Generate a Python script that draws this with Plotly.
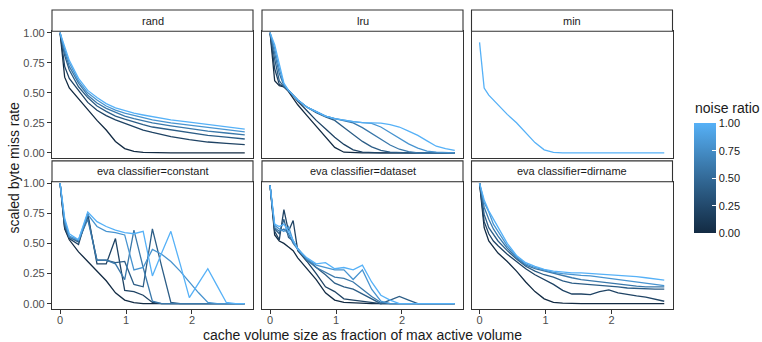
import plotly.graph_objects as go

# ---------------- data ----------------
noise_ratios = [0.0, 0.2, 0.4, 0.6, 0.8, 1.0]
panel_titles = ["rand", "lru", "min", "eva classifier=constant",
                "eva classifier=dataset", "eva classifier=dirname"]

rand_x = [0, 0.07, 0.14, 0.28, 0.42, 0.56, 0.7, 0.84, 0.98, 1.12, 1.26, 1.4, 1.68, 1.96, 2.24, 2.52, 2.8]
rand_y = [
    [1, .63, .54, .45, .36, .27, .19, .095, .035, .012, .003, 0, 0, 0, 0, 0, 0],
    [1, .72, .62, .52, .42, .355, .31, .275, .245, .215, .19, .17, .135, .11, .09, .078, .068],
    [1, .81, .69, .55, .46, .39, .345, .305, .28, .255, .235, .215, .19, .165, .145, .13, .115],
    [1, .84, .72, .58, .48, .415, .37, .335, .305, .285, .265, .25, .225, .2, .18, .165, .15],
    [1, .86, .75, .60, .50, .44, .39, .355, .33, .31, .29, .275, .25, .23, .21, .19, .175],
    [1, .88, .77, .62, .52, .46, .41, .375, .35, .33, .315, .30, .275, .255, .235, .215, .198],
]

lru_x = [0, 0.07, 0.14, 0.21, 0.28, 0.42, 0.56, 0.7, 0.84, 0.98, 1.12, 1.26, 1.4, 1.54, 1.68, 1.82, 1.96, 2.1, 2.24, 2.38, 2.52, 2.66, 2.8]
lru_y = [
    [1, .60, .56, .55, .51, .40, .31, .22, .13, .045, .005, 0, 0, 0, 0, 0, 0, 0, 0, 0, 0, 0, 0],
    [1, .70, .57, .55, .52, .43, .35, .27, .20, .13, .07, .025, .005, 0, 0, 0, 0, 0, 0, 0, 0, 0, 0],
    [1, .78, .60, .55, .52, .44, .38, .335, .30, .27, .21, .15, .095, .05, .02, .005, 0, 0, 0, 0, 0, 0, 0],
    [1, .84, .66, .56, .52, .44, .38, .34, .305, .285, .27, .25, .21, .16, .11, .065, .03, .01, 0, 0, 0, 0, 0],
    [1, .87, .70, .57, .52, .44, .38, .34, .305, .285, .27, .26, .252, .245, .215, .17, .12, .075, .04, .015, .005, 0, 0],
    [1, .90, .74, .58, .52, .44, .38, .34, .305, .285, .27, .26, .252, .25, .247, .235, .215, .18, .145, .10, .055, .035, .02],
]

min_x = [0, 0.07, 0.14, 0.28, 0.42, 0.56, 0.7, 0.84, 0.98, 1.12, 1.26, 1.68, 2.1, 2.52, 2.8]
min_y = [[0.92, 0.54, 0.48, 0.40, 0.32, 0.25, 0.165, 0.085, 0.025, 0.003, 0, 0, 0, 0, 0]]
min_noise = [1.0]

constant_x = [0, 0.07, 0.14, 0.28, 0.42, 0.56, 0.7, 0.84, 0.98, 1.12, 1.26, 1.4, 1.54, 1.68, 1.82, 1.96, 2.1, 2.24, 2.38, 2.52, 2.66, 2.8]
constant_y = [
    [1, .62, .53, .43, .35, .27, .19, .09, .03, .008, 0, 0, 0, 0, 0, 0, 0, 0, 0, 0, 0, 0],
    [1, .63, .54, .49, .75, .33, .33, .54, .11, .10, .07, .01, 0, 0, 0, 0, 0, 0, 0, 0, 0, 0],
    [1, .65, .55, .51, .72, .36, .36, .34, .35, .16, .14, .62, .31, .01, 0, 0, 0, 0, 0, 0, 0, 0],
    [1, .67, .55, .52, .70, .36, .36, .33, .20, .61, .30, .02, 0, 0, 0, 0, 0, 0, 0, 0, 0, 0],
    [1, .69, .56, .53, .74, .64, .60, .59, .57, .28, .30, .45, .41, .35, .27, .18, .09, .01, 0, 0, 0, 0],
    [1, .71, .58, .53, .76, .68, .64, .61, .59, .58, .60, .23, .42, .60, .33, .05, .17, .29, .15, .01, 0, 0],
]

dataset_x = [0, .07, .14, .21, .28, .35, .42, .56, .7, .84, .98, 1.12, 1.26, 1.4, 1.54, 1.68, 1.82, 1.96, 2.1, 2.24, 2.38, 2.52, 2.66, 2.8]
dataset_y = [
    [.98, .57, .52, .50, .47, .44, .38, .29, .20, .09, .03, .01, .005, 0, 0, 0, 0, 0, 0, 0, 0, 0, 0, 0],
    [.98, .60, .53, .78, .60, .69, .44, .35, .25, .14, .10, .04, .03, .02, .01, 0, 0, 0, 0, 0, 0, 0, 0, 0],
    [.98, .62, .58, .70, .55, .52, .45, .37, .30, .24, .17, .14, .12, .08, .04, 0, .03, .06, .03, 0, 0, 0, 0, 0],
    [.98, .63, .60, .62, .58, .50, .45, .36, .30, .26, .22, .21, .18, .12, .06, .01, 0, 0, 0, 0, 0, 0, 0, 0],
    [.98, .65, .62, .60, .64, .52, .46, .37, .32, .30, .28, .28, .20, .28, .12, .02, 0, 0, 0, 0, 0, 0, 0, 0],
    [.98, .66, .64, .66, .60, .52, .45, .38, .33, .34, .29, .30, .28, .32, .18, .07, .03, 0, 0, 0, 0, 0, 0, 0],
]

dirname_x = [0, .07, .14, .21, .28, .42, .56, .7, .84, .98, 1.12, 1.26, 1.4, 1.54, 1.68, 1.82, 1.96, 2.1, 2.24, 2.38, 2.52, 2.66, 2.8]
dirname_y = [
    [1, .63, .52, .47, .42, .35, .27, .18, .10, .04, .01, .005, 0, 0, 0, 0, 0, 0, 0, 0, 0, 0, 0],
    [1, .68, .58, .52, .48, .41, .35, .29, .24, .20, .16, .11, .08, .08, .075, .10, .115, .09, .075, .065, .055, .04, .02],
    [1, .74, .63, .57, .52, .44, .37, .31, .27, .24, .22, .19, .17, .165, .16, .155, .15, .14, .13, .125, .12, .12, .12],
    [1, .80, .70, .62, .56, .46, .38, .32, .29, .27, .25, .23, .215, .20, .19, .18, .17, .16, .15, .145, .14, .14, .14],
    [1, .84, .76, .66, .60, .48, .39, .33, .30, .28, .26, .25, .24, .235, .23, .22, .21, .20, .19, .175, .165, .155, .15],
    [1, .86, .77, .70, .64, .50, .40, .34, .31, .285, .27, .26, .255, .255, .25, .25, .245, .24, .235, .225, .215, .205, .195],
]

y_ticks = [0, 0.25, 0.5, 0.75, 1.0]
y_ticklabels = ["0.00", "0.25", "0.50", "0.75", "1.00"]
x_ticks = [0, 1, 2]
x_ticklabels = ["0", "1", "2"]
cb_ticks = [0, 0.25, 0.5, 0.75, 1.0]
cb_ticklabels = ["0.00", "0.25", "0.50", "0.75", "1.00"]

# ---------------- colour (ggplot default gradient, Lab interpolation) ----------------
LOW, HIGH = "#132B43", "#56B1F7"


def _hex2rgb(h):
    h = h.lstrip("#")
    return [int(h[i:i + 2], 16) / 255 for i in (0, 2, 4)]


def _to_lab(h):
    rgb = _hex2rgb(h)
    lin = [c / 12.92 if c <= 0.04045 else ((c + 0.055) / 1.055) ** 2.4 for c in rgb]
    X = 0.4124 * lin[0] + 0.3576 * lin[1] + 0.1805 * lin[2]
    Y = 0.2126 * lin[0] + 0.7152 * lin[1] + 0.0722 * lin[2]
    Z = 0.0193 * lin[0] + 0.1192 * lin[1] + 0.9505 * lin[2]
    xn, yn, zn = X / 0.95047, Y / 1.0, Z / 1.08883

    def f(t):
        return t ** (1 / 3) if t > 0.008856 else 7.787 * t + 16 / 116
    return (116 * f(yn) - 16, 500 * (f(xn) - f(yn)), 200 * (f(yn) - f(zn)))


def _from_lab(L, a, b):
    fy_ = (L + 16) / 116
    fx_ = fy_ + a / 500
    fz_ = fy_ - b / 200

    def finv(t):
        return t ** 3 if t ** 3 > 0.008856 else (t - 16 / 116) / 7.787
    X, Y, Z = finv(fx_) * 0.95047, finv(fy_), finv(fz_) * 1.08883
    r = 3.2406 * X - 1.5372 * Y - 0.4986 * Z
    g = -0.9689 * X + 1.8758 * Y + 0.0415 * Z
    bb = 0.0557 * X - 0.2040 * Y + 1.0570 * Z
    out = []
    for c in (r, g, bb):
        c = 12.92 * c if c <= 0.0031308 else 1.055 * c ** (1 / 2.4) - 0.055
        out.append(max(0, min(255, round(c * 255))))
    return "rgb(%d,%d,%d)" % tuple(out)


_lab_lo, _lab_hi = _to_lab(LOW), _to_lab(HIGH)


def gcol(t):
    return _from_lab(*[lo + (hi - lo) * t for lo, hi in zip(_lab_lo, _lab_hi)])


colorscale = [[i / 10, gcol(i / 10)] for i in range(11)]

# ---------------- layout geometry (px) ----------------
W, H = 762, 342
col_px = [(52, 253), (262, 463), (471.5, 672.5)]
row_px = [(26.7, 155.5), (179.3, 308.6)]
strip_px = [(5, 26.7), (158.2, 179.3)]


def fx(px):
    return px / W


def fy(py):
    return 1 - py / H


FAM = "Liberation Sans, Arial, sans-serif"
GRID = "#333333"
TICKFONT = dict(family=FAM, size=11, color="#4D4D4D")

panels = [
    (rand_x, rand_y, noise_ratios),
    (lru_x, lru_y, noise_ratios),
    (min_x, min_y, min_noise),
    (constant_x, constant_y, noise_ratios),
    (dataset_x, dataset_y, noise_ratios),
    (dirname_x, dirname_y, noise_ratios),
]

fig = go.Figure()
layout = dict(
    width=W, height=H, margin=dict(l=0, r=0, t=0, b=0),
    paper_bgcolor="white", plot_bgcolor="white", showlegend=False,
    font=dict(family=FAM, color="#1A1A1A"),
)
shapes = []
annotations = []

for i, (xs, ys, nr) in enumerate(panels):
    r, c = divmod(i, 3)
    sfx = "" if i == 0 else str(i + 1)
    xa, ya = "x" + sfx, "y" + sfx
    for vals, n in zip(ys, nr):
        fig.add_trace(go.Scatter(x=xs, y=vals, mode="lines", xaxis=xa, yaxis=ya,
                                 line=dict(color=gcol(n), width=1.3),
                                 hoverinfo="skip"))
    x0, x1 = col_px[c]
    y0, y1 = row_px[r]
    layout["xaxis" + sfx] = dict(
        domain=[fx(x0), fx(x1)], anchor=ya, range=[-0.122, 2.925],
        showgrid=False, zeroline=False, showline=True, mirror=True,
        linecolor=GRID, linewidth=1.1,
        tickvals=x_ticks, ticktext=x_ticklabels,
        ticks="outside" if r == 1 else "", ticklen=4, tickcolor=GRID,
        showticklabels=(r == 1), tickfont=TICKFONT, ticklabelstandoff=-3,
    )
    layout["yaxis" + sfx] = dict(
        domain=[fy(y1), fy(y0)], anchor=xa, range=[-0.045, 1.012],
        showgrid=False, zeroline=False, showline=True, mirror=True,
        linecolor=GRID, linewidth=1.1,
        tickvals=y_ticks, ticktext=y_ticklabels,
        ticks="outside" if c == 0 else "", ticklen=4, tickcolor=GRID,
        showticklabels=(c == 0), tickfont=TICKFONT,
    )
    s0, s1 = strip_px[r]
    shapes.append(dict(type="rect", xref="paper", yref="paper",
                       x0=fx(x0), x1=fx(x1), y0=fy(s1), y1=fy(s0),
                       line=dict(color=GRID, width=1.1), fillcolor="white"))
    annotations.append(dict(text=panel_titles[i], xref="paper", yref="paper",
                            x=fx((x0 + x1) / 2), y=fy((s0 + s1) / 2),
                            xanchor="center", yanchor="middle", showarrow=False,
                            font=dict(size=11, color="#1A1A1A", family=FAM)))

# colour bar via a dummy trace (title drawn as a separate annotation)
fig.add_trace(go.Scatter(
    x=[None], y=[None], mode="markers", xaxis="x", yaxis="y", hoverinfo="skip",
    marker=dict(color=[0], cmin=0, cmax=1, colorscale=colorscale, showscale=True,
                colorbar=dict(
                    x=fx(694), xanchor="left", xref="paper",
                    y=fy(120), yanchor="top", yref="paper",
                    len=110, lenmode="pixels", thickness=22, thicknessmode="pixels",
                    outlinewidth=0, tickvals=cb_ticks, ticktext=cb_ticklabels,
                    ticks="inside", ticklen=4, tickcolor="white",
                    tickfont=dict(size=11, color="#1A1A1A", family=FAM),
                    xpad=0, ypad=0,
                ))))

annotations.append(dict(text="noise ratio", xref="paper", yref="paper",
                        x=fx(693), y=fy(105), showarrow=False,
                        xanchor="left", yanchor="middle",
                        font=dict(size=14, color="#1A1A1A", family=FAM)))
annotations.append(dict(text="scaled byte miss rate", xref="paper", yref="paper",
                        x=fx(14), y=fy(165), textangle=-90, showarrow=False,
                        xanchor="center", yanchor="middle",
                        font=dict(size=14, color="#1A1A1A", family=FAM)))
annotations.append(dict(text="cache volume size as fraction of max active volume",
                        xref="paper", yref="paper", x=fx(362), y=fy(335),
                        showarrow=False, xanchor="center", yanchor="middle",
                        font=dict(size=14, color="#1A1A1A", family=FAM)))

layout["shapes"] = shapes
layout["annotations"] = annotations
fig.update_layout(**layout)
fig.write_html("out.html", config={"displayModeBar": False})
